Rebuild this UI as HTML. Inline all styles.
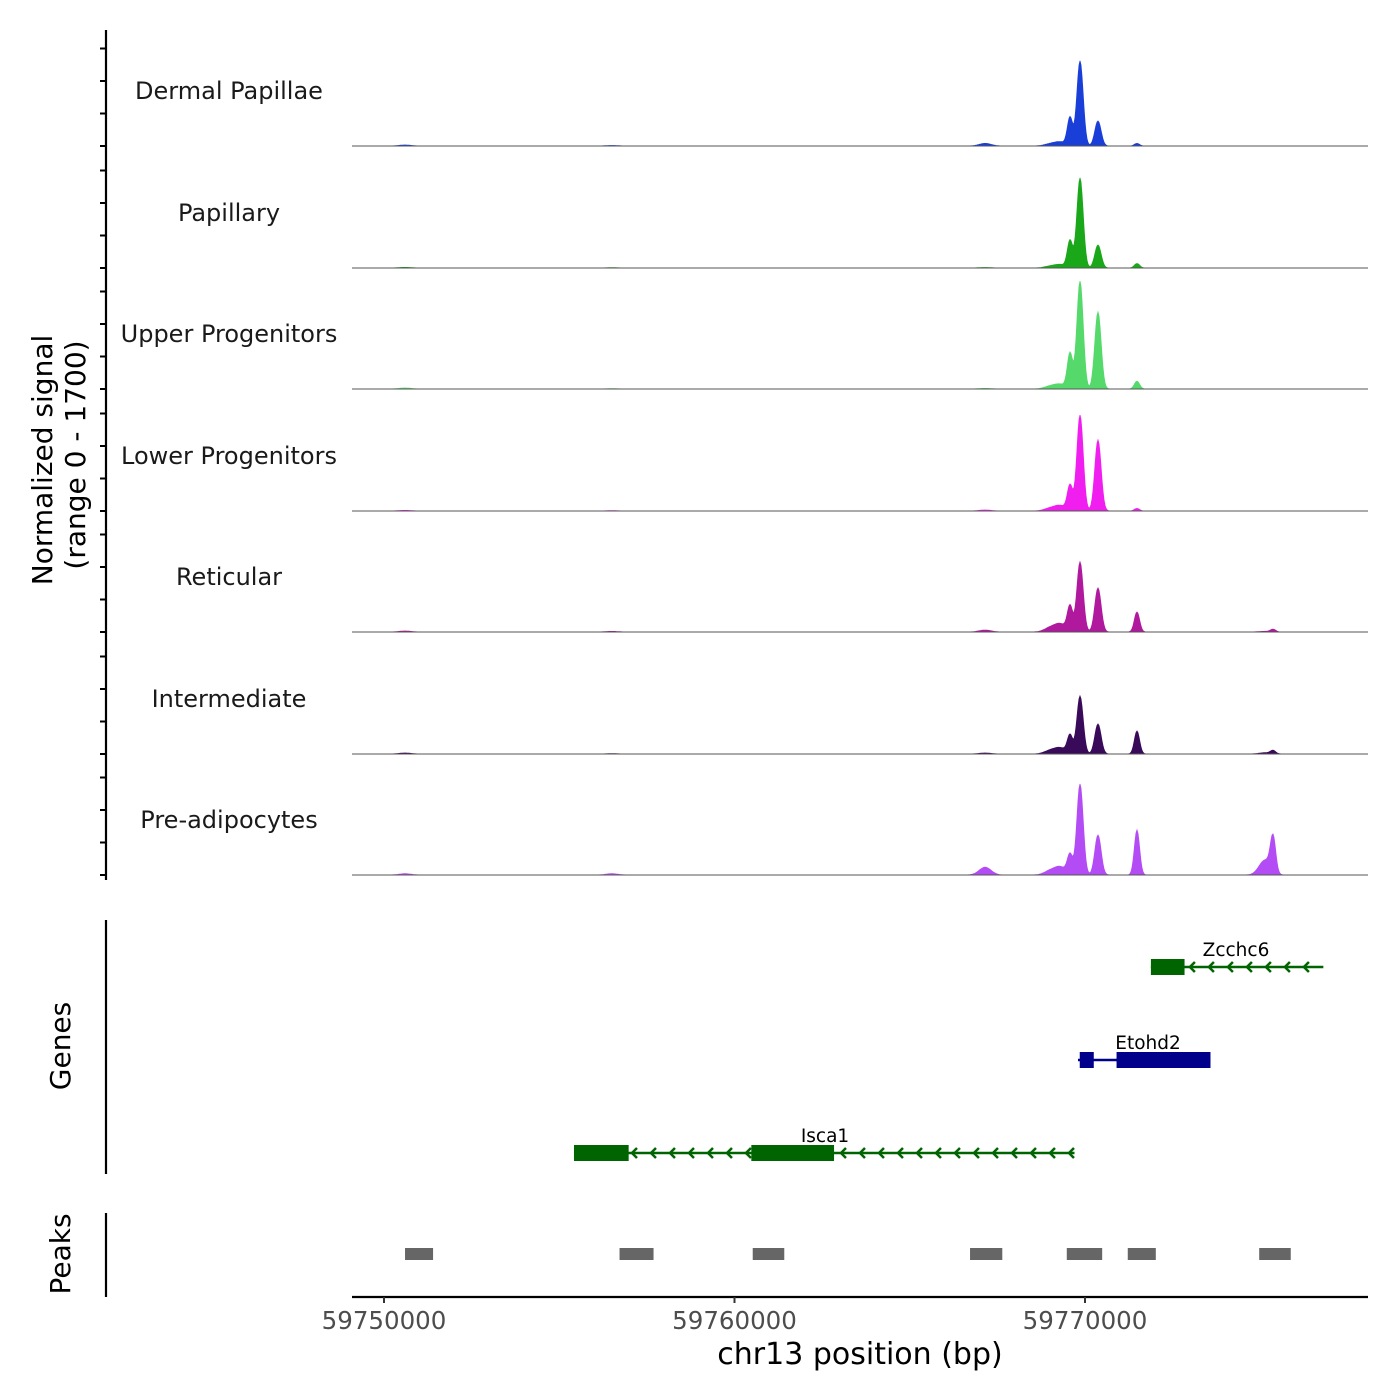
<!DOCTYPE html>
<html><head><meta charset="utf-8"><style>
body{margin:0;background:#fff;}
svg{display:block;font-family:"DejaVu Sans","Liberation Sans",sans-serif;}
</style></head><body>
<svg id="c" width="1400" height="1400"></svg>
<script>
const tracks=["Dermal Papillae","Papillary","Upper Progenitors","Lower Progenitors","Reticular","Intermediate","Pre-adipocytes"];
const colors=["#1a3fd9","#1aa81a","#55d96b","#f01ff0","#b0189e","#3a0a5a","#b44cf5"];
const peakPos=[59767150,59769000,59769300,59769572,59769858,59770370,59771483,59775137,59775365,59750600,59756500];
const peakH=[
[40,30,60,430,1308,385,40,0,0,15,8],
[8,25,50,415,1385,354,70,0,0,10,5],
[10,40,70,540,1660,1185,120,0,0,15,5],
[15,40,80,385,1477,1092,40,0,0,10,5],
[30,60,120,385,1077,677,308,10,40,15,10],
[15,50,90,280,892,462,354,20,50,15,5],
[120,60,120,300,1400,615,692,230,538,20,20]];
const xTicks=[59750000,59760000,59770000];
const genes=["Zcchc6","Etohd2","Isca1"];
const geneStart=[59771880,59769800,59755420];
const geneEnd=[59776800,59773580,59769700];
const exonStart=[[59771880],[59769850,59770900],[59755420,59760480]];
const exonEnd=[[59772840],[59770250,59773580],[59756980,59762840]];
const geneColor=["#006400","#00008b","#006400"];
const peakStart=[59750600,59756720,59760520,59766720,59769480,59771220,59774970];
const peakEnd=[59751400,59757690,59761420,59767640,59770490,59772020,59775870];

const NS="http://www.w3.org/2000/svg";
const svg=document.getElementById('c');
function el(t,a,p){const e=document.createElementNS(NS,t);for(const k in a)e.setAttribute(k,a[k]);(p||svg).appendChild(e);return e;}
const X0=352,X1=1368,D0=59749087,D1=59778074;
const xs=v=>X0+(v-D0)/(D1-D0)*(X1-X0);
const base=[146,268,389,511,632,754,875];
const ys=(b,v)=>b-v*0.065;
let ax=el('line',{x1:106,x2:106,y1:30,y2:880,stroke:'#000','stroke-width':2.2});

base.forEach(b=>{for(let k=0;k<4;k++){const y=b-k*32.5;if(y<30)continue;const t=el('line',{x1:100,x2:106,y1:y,y2:y,stroke:'#000','stroke-width':2});}});
let yt=el('text',{x:0,y:0,'font-size':28,'text-anchor':'middle',transform:'translate(52,460) rotate(-90)'});
yt.textContent='Normalized signal';
let yt2=el('text',{x:0,y:0,'font-size':28,'text-anchor':'middle',transform:'translate(85,455) rotate(-90)'});
yt2.textContent='(range 0 - 1700)';
tracks.forEach((name,i)=>{
  const b=base[i];
  let lab=el('text',{x:229,y:b-47,'font-size':24,'text-anchor':'middle',fill:'#1a1a1a'});
  lab.textContent=name;
  let d='M'+X0+','+b;
  for(let px=X0;px<=X1;px+=1){
    const bp=D0+(px-X0)/(X1-X0)*(D1-D0);let v=0;
    peakPos.forEach((p,j)=>{const s=(j==4||j==5)?90:(j==3||j==6||j==8)?75:170;const z=(bp-p)/s;v+=peakH[i][j]*Math.exp(-z*z/2);});
    d+=' L'+px+','+ys(b,v).toFixed(1);
  }
  d+=' L'+X1+','+b+' Z';
  let a=el('path',{d,fill:colors[i],stroke:colors[i],'stroke-width':0.8});
  
  let bl=el('line',{x1:X0,x2:X1,y1:b,y2:b,stroke:'#555','stroke-width':1});
  
});
let ga=el('line',{x1:106,x2:106,y1:920,y2:1174,stroke:'#000','stroke-width':2.2});

let gt=el('text',{x:0,y:0,'font-size':28,'text-anchor':'middle',transform:'translate(70,1046) rotate(-90)'});
gt.textContent='Genes';
const gy=[967,1060,1153];
genes.forEach((g,i)=>{
  const y=gy[i],c=geneColor[i];
  let ln=el('line',{x1:xs(geneStart[i]),x2:xs(geneEnd[i]),y1:y,y2:y,stroke:c,'stroke-width':2.5});
  
  for(let x=xs(geneStart[i])+40;x<xs(geneEnd[i]);x+=19){
    let ch=el('path',{d:`M${x+4},${y-5} L${x-1},${y} L${x+4},${y+5}`,fill:'none',stroke:c,'stroke-width':2.5});
    
  }
  exonStart[i].forEach((s,k)=>{
    let r=el('rect',{x:xs(s),y:y-8,width:xs(exonEnd[i][k])-xs(s),height:16,fill:c});
    
  });
  let t=el('text',{x:[1236,1148,825][i],y:y-11,'font-size':18.5,'text-anchor':'middle'});
  t.textContent=g;
});
let pa=el('line',{x1:106,x2:106,y1:1213,y2:1297,stroke:'#000','stroke-width':2.2});

let pt=el('text',{x:0,y:0,'font-size':28,'text-anchor':'middle',transform:'translate(70,1254) rotate(-90)'});
pt.textContent='Peaks';
peakStart.forEach((s,i)=>{
  let r=el('rect',{x:xs(s),y:1248,width:xs(peakEnd[i])-xs(s),height:12,fill:'#666'});
  
});
let xa=el('line',{x1:X0,x2:X1,y1:1297,y2:1297,stroke:'#000','stroke-width':2.2});

xTicks.forEach(v=>{
  let t=el('line',{x1:xs(v),x2:xs(v),y1:1297,y2:1303,stroke:'#333','stroke-width':2});
  
  let l=el('text',{x:xs(v),y:1329,'font-size':24.5,'text-anchor':'middle',fill:'#4d4d4d'});
  l.textContent=v;
});
let xt=el('text',{x:860,y:1364,'font-size':30,'text-anchor':'middle'});
xt.textContent='chr13 position (bp)';
</script>
</body></html>
